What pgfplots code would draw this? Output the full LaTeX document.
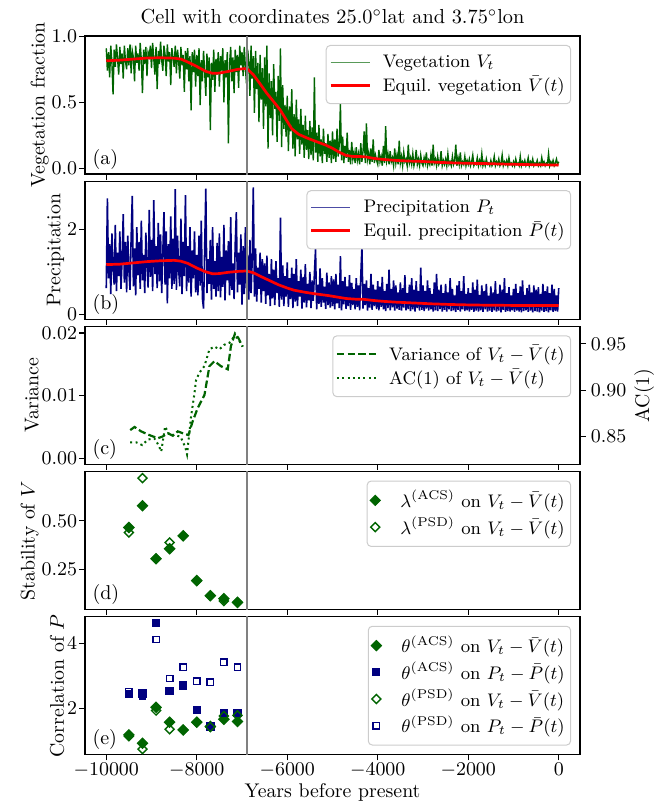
\RequirePackage{fix-cm}
\documentclass[border=0pt]{standalone}
\usepackage{pgfplots}
\usepackage{pgfplotstable}
\pgfplotsset{compat=1.18}

\definecolor{vegcol}{HTML}{006400}
\definecolor{precol}{HTML}{000080}
\definecolor{eqred}{HTML}{FF0000}
\definecolor{refcol}{HTML}{808080}
\definecolor{legframe}{HTML}{CCCCCC}

\newcommand{\tickfont}{\fontsize{9.7}{11.5}\selectfont}
\newcommand{\labfont}{\fontsize{9.9}{11.8}\selectfont}
\newcommand{\titfont}{\fontsize{10.15}{12}\selectfont}
\newcommand{\legfont}{\fontsize{9.1}{11}\selectfont}
\newcommand{\panelfont}{\fontsize{10}{12}\selectfont}

% vegetation fraction V_t, one value every 25 years, -10000 ... 0
\pgfplotstableread[row sep=\\]{
v\\
0.91\\0.74\\0.88\\0.69\\0.93\\0.80\\0.56\\0.90\\0.77\\0.94\\0.83\\0.71\\0.92\\0.79\\0.87\\0.68\\0.93\\0.81\\0.75\\0.91\\
0.78\\0.94\\0.72\\0.89\\0.84\\0.66\\0.93\\0.80\\0.87\\0.74\\0.95\\0.82\\0.57\\0.90\\0.79\\0.92\\0.70\\0.88\\0.85\\0.93\\
0.76\\0.95\\0.83\\0.71\\0.92\\0.60\\0.89\\0.79\\0.96\\0.82\\0.74\\0.93\\0.86\\0.70\\0.94\\0.81\\0.88\\0.63\\0.91\\0.84\\
0.77\\0.93\\0.72\\0.90\\0.81\\0.68\\0.92\\0.78\\0.86\\0.58\\0.89\\0.75\\0.91\\0.66\\0.85\\0.44\\0.88\\0.73\\0.90\\0.62\\
0.86\\0.70\\0.91\\0.48\\0.82\\0.66\\0.89\\0.73\\0.55\\0.87\\0.69\\0.84\\0.29\\0.80\\0.67\\0.90\\0.58\\0.83\\0.71\\0.88\\
0.62\\0.85\\0.74\\0.91\\0.50\\0.82\\0.69\\0.88\\0.19\\0.79\\0.92\\0.66\\0.84\\0.57\\0.90\\0.73\\0.86\\0.61\\0.93\\0.78\\
0.88\\0.70\\0.92\\0.76\\0.64\\0.90\\0.81\\0.55\\0.93\\0.68\\0.85\\0.42\\0.89\\0.60\\0.80\\0.35\\0.86\\0.52\\0.76\\0.30\\
0.84\\0.47\\0.93\\0.15\\0.72\\0.38\\0.66\\0.25\\0.79\\0.45\\0.58\\0.20\\0.70\\0.36\\0.91\\0.16\\0.63\\0.30\\0.48\\0.24\\
0.55\\0.13\\0.47\\0.28\\0.60\\0.15\\0.41\\0.09\\0.52\\0.22\\0.37\\0.11\\0.45\\0.18\\0.33\\0.08\\0.40\\0.14\\0.29\\0.07\\
0.36\\0.10\\0.31\\0.06\\0.69\\0.12\\0.27\\0.05\\0.33\\0.09\\0.22\\0.04\\0.30\\0.11\\0.19\\0.05\\0.26\\0.08\\0.21\\0.04\\
0.28\\0.07\\0.22\\0.05\\0.30\\0.09\\0.18\\0.49\\0.06\\0.24\\0.04\\0.17\\0.08\\0.27\\0.05\\0.14\\0.03\\0.20\\0.07\\0.12\\
0.04\\0.16\\0.06\\0.11\\0.03\\0.19\\0.05\\0.13\\0.28\\0.04\\0.34\\0.07\\0.12\\0.03\\0.15\\0.05\\0.22\\0.04\\0.10\\0.06\\
0.03\\0.14\\0.05\\0.09\\0.02\\0.17\\0.04\\0.32\\0.06\\0.11\\0.03\\0.13\\0.05\\0.08\\0.02\\0.15\\0.04\\0.10\\0.03\\0.21\\
0.04\\0.09\\0.02\\0.12\\0.05\\0.07\\0.02\\0.18\\0.04\\0.08\\0.03\\0.11\\0.02\\0.06\\0.14\\0.03\\0.07\\0.02\\0.10\\0.04\\
0.02\\0.08\\0.04\\0.12\\0.02\\0.06\\0.03\\0.10\\0.02\\0.18\\0.04\\0.07\\0.02\\0.09\\0.03\\0.05\\0.13\\0.02\\0.06\\0.03\\
0.07\\0.02\\0.11\\0.03\\0.05\\0.02\\0.09\\0.03\\0.06\\0.18\\0.02\\0.08\\0.03\\0.12\\0.02\\0.05\\0.03\\0.09\\0.02\\0.06\\
0.03\\0.07\\0.02\\0.05\\0.10\\0.02\\0.04\\0.03\\0.08\\0.02\\0.06\\0.03\\0.11\\0.02\\0.05\\0.02\\0.07\\0.03\\0.04\\0.02\\
0.06\\0.02\\0.04\\0.09\\0.02\\0.05\\0.03\\0.07\\0.02\\0.04\\0.10\\0.02\\0.05\\0.03\\0.06\\0.02\\0.08\\0.03\\0.04\\0.02\\
0.05\\0.02\\0.07\\0.03\\0.04\\0.02\\0.09\\0.02\\0.05\\0.03\\0.06\\0.02\\0.04\\0.08\\0.02\\0.05\\0.03\\0.07\\0.02\\0.04\\
0.03\\0.06\\0.02\\0.04\\0.02\\0.08\\0.03\\0.05\\0.02\\0.04\\0.03\\0.11\\0.02\\0.05\\0.03\\0.06\\0.02\\0.04\\0.07\\0.03\\0.05\\
}\vegdata

% precipitation P_t, same time grid
\pgfplotstableread[row sep=\\]{
p\\
0.62\\2.72\\0.85\\1.65\\0.48\\1.90\\1.10\\0.70\\2.10\\0.55\\1.45\\0.90\\1.95\\0.60\\1.30\\2.35\\0.75\\1.70\\0.52\\1.85\\
1.05\\0.58\\1.80\\2.78\\0.66\\1.55\\0.45\\2.05\\0.92\\1.70\\0.60\\2.20\\0.80\\1.40\\0.50\\1.92\\1.15\\0.63\\2.45\\0.88\\
1.75\\0.55\\2.68\\0.95\\1.60\\0.62\\2.15\\0.78\\1.88\\0.50\\1.45\\2.40\\0.70\\1.95\\0.26\\1.65\\0.85\\2.30\\0.60\\1.78\\
0.72\\2.94\\0.58\\1.85\\1.05\\0.66\\2.25\\0.48\\1.70\\0.90\\2.80\\0.55\\1.60\\0.75\\2.05\\0.42\\1.50\\0.85\\1.95\\0.52\\
1.40\\0.45\\1.85\\0.68\\2.20\\0.38\\0.14\\1.55\\2.95\\0.50\\1.30\\0.72\\1.75\\0.35\\2.05\\0.60\\1.25\\0.42\\1.68\\0.55\\
1.90\\0.40\\1.35\\0.65\\2.10\\0.33\\1.50\\0.80\\1.72\\0.45\\2.28\\0.58\\1.20\\0.36\\1.65\\2.40\\0.52\\1.45\\0.70\\1.88\\
0.23\\1.60\\0.48\\2.05\\0.62\\1.40\\0.35\\1.75\\0.50\\1.25\\2.98\\0.42\\1.55\\0.30\\1.10\\0.60\\1.45\\0.28\\1.30\\0.55\\
1.20\\0.25\\1.38\\0.45\\0.95\\0.20\\1.30\\0.38\\1.05\\0.22\\1.25\\0.50\\0.85\\0.18\\2.27\\0.35\\1.15\\0.20\\0.90\\0.42\\
1.22\\0.18\\0.85\\0.36\\1.10\\0.15\\0.95\\0.30\\1.30\\0.20\\0.78\\0.42\\1.05\\0.14\\0.88\\0.28\\1.18\\0.17\\0.72\\0.33\\
1.00\\0.15\\0.80\\0.32\\0.95\\1.53\\0.12\\0.70\\0.25\\1.08\\0.18\\0.85\\0.28\\0.65\\0.13\\0.98\\0.22\\0.75\\0.16\\0.90\\
0.20\\0.82\\0.12\\0.95\\0.26\\0.70\\0.15\\1.37\\0.10\\0.78\\0.24\\0.88\\0.13\\0.66\\0.20\\0.92\\0.11\\0.74\\0.22\\0.60\\
0.12\\0.85\\0.18\\0.68\\0.10\\0.90\\1.57\\0.14\\0.72\\0.22\\0.80\\0.09\\0.62\\0.16\\0.95\\0.11\\0.70\\0.20\\0.58\\0.13\\
0.78\\0.10\\0.65\\0.18\\0.88\\0.12\\0.55\\0.08\\0.72\\0.15\\1.05\\0.10\\0.60\\0.17\\0.80\\0.09\\0.68\\0.14\\0.52\\0.11\\
0.75\\0.09\\0.62\\0.16\\0.92\\0.10\\0.50\\0.13\\0.70\\0.08\\0.85\\0.12\\0.58\\0.07\\0.78\\0.15\\0.55\\0.09\\1.10\\0.11\\
0.68\\0.08\\0.55\\0.14\\0.80\\0.09\\0.62\\0.12\\0.48\\0.07\\0.75\\0.10\\0.95\\0.08\\0.58\\0.13\\0.70\\0.07\\0.50\\0.11\\
0.72\\0.07\\0.52\\0.12\\0.85\\0.08\\0.60\\0.10\\0.45\\0.06\\0.68\\0.11\\0.78\\0.07\\0.55\\0.12\\0.90\\0.08\\0.48\\0.10\\
0.62\\0.07\\0.50\\0.11\\0.75\\0.06\\0.58\\0.09\\0.82\\0.07\\0.46\\0.10\\0.68\\0.06\\0.55\\0.12\\0.72\\0.07\\0.44\\0.09\\
0.66\\0.06\\0.52\\0.10\\0.78\\0.07\\0.48\\0.09\\0.70\\0.05\\0.58\\0.11\\0.85\\0.06\\0.50\\0.08\\0.64\\0.07\\0.45\\0.10\\
0.60\\0.06\\0.72\\0.09\\0.50\\0.07\\0.66\\0.05\\0.80\\0.08\\0.46\\0.10\\0.62\\0.06\\0.70\\0.09\\0.52\\0.05\\0.68\\0.08\\
0.58\\0.07\\0.64\\0.05\\0.48\\0.09\\0.72\\0.06\\0.55\\0.08\\0.66\\0.05\\0.50\\0.10\\0.70\\0.06\\0.60\\0.08\\0.45\\0.07\\0.62\\
}\precdata

\pgfplotsset{
  mypanel/.style={
    width=247.5pt, height=69pt, scale only axis,
    xmin=-10470, xmax=470,
    xtick={-10000,-8000,-6000,-4000,-2000,0},
    xtick pos=left, ytick pos=left,
    tick align=outside, major tick length=2.8pt,
    every tick/.style={black, line width=0.6pt},
    line width=0.6pt,
    scaled y ticks=false, scaled x ticks=false,
    /pgf/number format/1000 sep={},
    tick label style={font=\tickfont},
    label style={font=\labfont},
    yticklabel style={/tikz/xshift=2.5pt},
    xticklabel style={/tikz/yshift=2.5pt},
    ylabel style={/tikz/yshift=-5.5pt},
    xlabel style={/tikz/yshift=3.8pt},
    legend cell align=left,
    legend style={at={(0.982,0.935)}, anchor=north east,
      draw=legframe, line width=0.5pt, fill=white,
      rounded corners=2pt, font=\legfont, inner xsep=1.5pt, inner ysep=3pt,
      row sep=0pt, nodes={inner xsep=1.5pt, inner ysep=1.6pt}},
    legend image code/.code={\draw[##1] (0pt,0pt) -- (19.5pt,0pt); \path (24pt,0pt);},
  },
  mymk/.style={only marks,
    legend image code/.code={\draw[mark repeat=2, mark phase=2, ##1] plot coordinates {(0pt,0pt) (9.75pt,0pt) (19.5pt,0pt)}; \path (20.5pt,0pt);}},
  myref/.style={refcol, line width=1pt, forget plot},
  myfmt1/.style={yticklabel style={/pgf/number format/fixed, /pgf/number format/fixed zerofill, /pgf/number format/precision=1}},
  myfmt2/.style={yticklabel style={/pgf/number format/fixed, /pgf/number format/fixed zerofill, /pgf/number format/precision=2}},
}

\tikzset{plabel/.style={font=\panelfont, anchor=base west, inner sep=0pt}}

\begin{document}
\begin{tikzpicture}
\path[use as bounding box] (-42.5pt,18pt) rectangle (293.5pt,-386.5pt);

% (a) vegetation
\begin{axis}[mypanel, myfmt1, at={(0,0)}, anchor=north west,
  xticklabels={},
  ymin=-0.043, ymax=1.003, ytick={0,0.5,1}, ylabel={Vegetation fraction},
  title={Cell with coordinates 25.0$^\circ$lat and 3.75$^\circ$lon},
  title style={font=\titfont, anchor=base, yshift=0.3pt, inner sep=0pt}]
\addplot[vegcol, line width=0.7pt, forget plot] table[x expr={-10000+25*\coordindex}, y=v] {\vegdata};
\addlegendimage{vegcol, opacity=0.65, line width=0.7pt}
\addlegendentry{Vegetation $V_t$}
\addplot[eqred, line width=1.35pt] coordinates {
(-10000,0.815) (-9700,0.820) (-9400,0.828) (-9100,0.836) (-8800,0.838) (-8500,0.835)
(-8350,0.828) (-8200,0.806) (-8000,0.772) (-7800,0.735) (-7650,0.720) (-7500,0.722)
(-7300,0.735) (-7100,0.750) (-6950,0.756) (-6880,0.752) (-6750,0.710) (-6600,0.640)
(-6450,0.568) (-6300,0.505) (-6150,0.440) (-6000,0.355) (-5900,0.300) (-5750,0.258)
(-5550,0.228) (-5350,0.202) (-5150,0.176) (-5000,0.152) (-4850,0.122) (-4700,0.098)
(-4550,0.090) (-4400,0.090) (-4250,0.086) (-4100,0.076) (-3900,0.068) (-3600,0.060)
(-3300,0.055) (-3000,0.052) (-2700,0.046) (-2400,0.042) (-2000,0.038) (-1600,0.036)
(-1200,0.032) (-800,0.029) (-400,0.027) (0,0.025)};
\addlegendentry{Equil.\ vegetation $\bar V(t)$}
\addplot[myref] coordinates {(-6880,-1) (-6880,2)};
\node[plabel] at (rel axis cs:0.014,0.072) {(a)};
\end{axis}

% (b) precipitation
\begin{axis}[mypanel, at={(0,-72.6pt)}, anchor=north west,
  xticklabels={},
  ymin=-0.11, ymax=3.125, ytick={0,2}, ylabel={Precipitation}]
\addplot[precol, line width=0.8pt, forget plot] table[x expr={-10000+25*\coordindex}, y=p] {\precdata};
\addlegendimage{precol, opacity=0.7, line width=0.7pt}
\addlegendentry{Precipitation $P_t$}
\addplot[eqred, line width=1.35pt] coordinates {
(-10000,1.17) (-9700,1.18) (-9400,1.21) (-9100,1.24) (-8800,1.26) (-8500,1.27)
(-8350,1.25) (-8200,1.20) (-8000,1.09) (-7800,1.00) (-7650,0.955) (-7500,0.96)
(-7300,0.99) (-7100,1.01) (-6900,1.02) (-6750,0.98) (-6600,0.90) (-6400,0.80)
(-6200,0.70) (-6000,0.62) (-5850,0.57) (-5600,0.52) (-5350,0.48) (-5100,0.445)
(-4900,0.41) (-4700,0.375) (-4500,0.36) (-4300,0.355) (-4100,0.33) (-3900,0.31)
(-3600,0.29) (-3200,0.27) (-2800,0.25) (-2400,0.235) (-2000,0.225) (-1600,0.218)
(-1000,0.213) (-500,0.21) (0,0.21)};
\addlegendentry{Equil.\ precipitation $\bar P(t)$}
\addplot[myref] coordinates {(-6880,-1) (-6880,5)};
\node[plabel] at (rel axis cs:0.014,0.072) {(b)};
\end{axis}

% (c) variance (left) and AC(1) (right)
\begin{axis}[mypanel, myfmt2, at={(0,-145.2pt)}, anchor=north west,
  xticklabels={},
  ymin=-0.00096, ymax=0.02106, ytick={0,0.01,0.02}, ylabel={Variance}]
\addplot[vegcol, line width=1.1pt, dash pattern=on 3.7pt off 1.6pt] coordinates {
(-9470,0.0045) (-9375,0.0050) (-9230,0.0043) (-9045,0.0037) (-8860,0.0032)
(-8750,0.0035) (-8640,0.0040) (-8530,0.0036) (-8420,0.0043) (-8310,0.0040)
(-8185,0.0037) (-8090,0.0059) (-7980,0.0080) (-7830,0.0101) (-7720,0.0147)
(-7610,0.0155) (-7465,0.0147) (-7315,0.0142) (-7245,0.0179) (-7155,0.0199)
(-7080,0.0192) (-6985,0.0178)};
\addplot[myref] coordinates {(-6880,-1) (-6880,1)};
\node[plabel] at (rel axis cs:0.014,0.072) {(c)};
\end{axis}
\begin{axis}[mypanel, myfmt2, at={(0,-145.2pt)}, anchor=north west,
  axis x line=none, axis y line*=right, ytick pos=right, yticklabel pos=right,
  yticklabel style={/tikz/xshift=-3.5pt}, ylabel style={/tikz/yshift=8.5pt},
  ymin=0.8202, ymax=0.9687, ytick={0.85,0.9,0.95}, ylabel={AC(1)}]
\addlegendimage{vegcol, line width=1.1pt, dash pattern=on 3.7pt off 1.6pt}
\addlegendentry{Variance of $V_t-\bar V(t)$}
\addplot[vegcol, line width=1pt, dash pattern=on 1pt off 1.65pt] coordinates {
(-9470,0.844) (-9340,0.844) (-9205,0.841) (-9080,0.847) (-8935,0.848) (-8845,0.841)
(-8785,0.834) (-8700,0.861) (-8605,0.852) (-8495,0.852) (-8360,0.850) (-8310,0.845)
(-8250,0.838) (-8215,0.831) (-8125,0.872) (-8050,0.897) (-8015,0.911) (-7940,0.919)
(-7830,0.926) (-7720,0.944) (-7610,0.947) (-7500,0.944) (-7390,0.949) (-7280,0.951)
(-7170,0.958) (-7095,0.956) (-6985,0.947)};
\addlegendentry{AC(1) of $V_t-\bar V(t)$}
\end{axis}

% (d) stability of V
\begin{axis}[mypanel, myfmt2, at={(0,-217.8pt)}, anchor=north west,
  xticklabels={},
  ymin=0.046, ymax=0.7515, ytick={0.25,0.5}, ylabel={Stability of $V$}]
\addplot[mymk, mark=square*, mark size=1.8pt, mark options={rotate=45, fill=vegcol, draw=vegcol}] coordinates {
(-9500,0.466) (-9200,0.577) (-8900,0.306) (-8600,0.357) (-8300,0.423)
(-8000,0.194) (-7700,0.117) (-7400,0.102) (-7100,0.083)};
\addlegendentry{$\lambda^{(\mathrm{ACS})}$ on $V_t-\bar V(t)$}
\addplot[mymk, mark=square, mark size=1.6pt, mark options={rotate=45, draw=vegcol, line width=0.7pt}] coordinates {
(-9500,0.440) (-9200,0.718) (-8900,0.306) (-8600,0.389) (-8300,0.423)
(-8000,0.194) (-7700,0.117) (-7400,0.090) (-7100,0.083)};
\addlegendentry{$\lambda^{(\mathrm{PSD})}$ on $V_t-\bar V(t)$}
\addplot[myref] coordinates {(-6880,-1) (-6880,2)};
\node[plabel] at (rel axis cs:0.014,0.072) {(d)};
\end{axis}

% (e) correlation of P
\begin{axis}[mypanel, at={(0,-290.4pt)}, anchor=north west,
  ymin=0.564, ymax=4.82, ytick={2,4}, ylabel={Correlation of $P$},
  xlabel={Years before present}]
\addplot[mymk, mark=square*, mark size=1.8pt, mark options={rotate=45, fill=vegcol, draw=vegcol}] coordinates {
(-9500,1.18) (-9200,0.92) (-8900,2.03) (-8600,1.57) (-8300,1.33)
(-8000,1.57) (-7700,1.44) (-7400,1.66) (-7100,1.59)};
\addlegendentry{$\theta^{(\mathrm{ACS})}$ on $V_t-\bar V(t)$}
\addplot[mymk, mark=square*, mark size=1.8pt, mark options={fill=precol, draw=precol}] coordinates {
(-9500,2.44) (-9200,2.46) (-8900,4.62) (-8600,2.53) (-8300,2.70)
(-8000,1.95) (-7700,1.44) (-7400,1.85) (-7100,1.85)};
\addlegendentry{$\theta^{(\mathrm{ACS})}$ on $P_t-\bar P(t)$}
\addplot[mymk, mark=square, mark size=1.6pt, mark options={rotate=45, draw=vegcol, line width=0.7pt}] coordinates {
(-9500,1.14) (-9200,0.74) (-8900,1.93) (-8600,1.35) (-8300,1.33)
(-8000,1.57) (-7700,1.42) (-7400,1.76) (-7100,1.78)};
\addlegendentry{$\theta^{(\mathrm{PSD})}$ on $V_t-\bar V(t)$}
\addplot[mymk, mark=square, mark size=1.6pt, mark options={draw=precol, line width=0.7pt}] coordinates {
(-9500,2.51) (-9200,2.38) (-8900,4.12) (-8600,2.92) (-8300,3.26)
(-8000,2.84) (-7700,2.80) (-7400,3.42) (-7100,3.26)};
\addlegendentry{$\theta^{(\mathrm{PSD})}$ on $P_t-\bar P(t)$}
\addplot[myref] coordinates {(-6880,-1) (-6880,6)};
\node[plabel] at (rel axis cs:0.014,0.072) {(e)};
\end{axis}
\end{tikzpicture}
\end{document}
